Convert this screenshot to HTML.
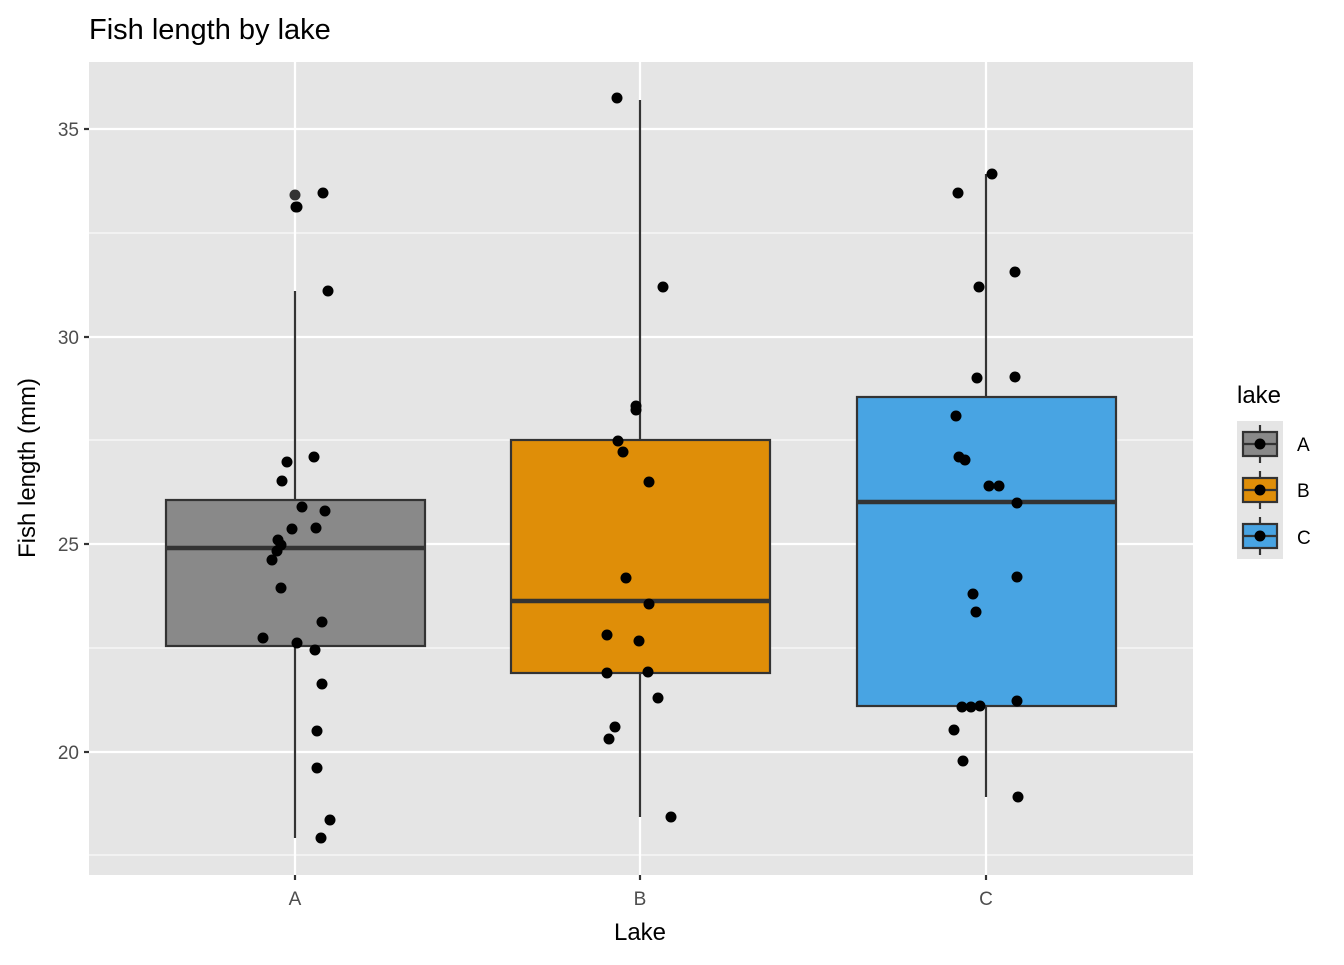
<!DOCTYPE html><html><head><style>body{margin:0;background:#fff}</style></head><body>
<svg width="1344" height="960" xmlns="http://www.w3.org/2000/svg" font-family="Liberation Sans, Arial, sans-serif">
<rect x="89" y="62" width="1104" height="813" fill="#e5e5e5"/>
<g stroke="#fff" stroke-width="1.1"><line x1="89" x2="1193" y1="233" y2="233"/><line x1="89" x2="1193" y1="440" y2="440"/><line x1="89" x2="1193" y1="648" y2="648"/><line x1="89" x2="1193" y1="855" y2="855"/></g>
<g stroke="#fff" stroke-width="2.2"><line x1="89" x2="1193" y1="129" y2="129"/><line x1="89" x2="1193" y1="337" y2="337"/><line x1="89" x2="1193" y1="544" y2="544"/><line x1="89" x2="1193" y1="752" y2="752"/>
<line x1="295" x2="295" y1="62" y2="875"/><line x1="640" x2="640" y1="62" y2="875"/><line x1="986" x2="986" y1="62" y2="875"/></g>
<g stroke="#333" stroke-width="2.2">
<line x1="295" x2="295" y1="291" y2="838"/><rect x="166" y="500" width="259" height="146" fill="#898989"/><line x1="166" x2="425" y1="548" y2="548" stroke-width="4.5"/>
<line x1="640" x2="640" y1="100" y2="817"/><rect x="511" y="440" width="259" height="233" fill="#df8e08"/><line x1="511" x2="770" y1="601" y2="601" stroke-width="4.5"/>
<line x1="986" x2="986" y1="174" y2="797"/><rect x="857" y="397" width="259" height="309" fill="#48a4e3"/><line x1="857" x2="1116" y1="502" y2="502" stroke-width="4.5"/>
</g>
<g fill="#000">
<circle cx="295" cy="195" r="5.5" fill="#333"/><circle cx="296" cy="207" r="5.5"/><circle cx="297" cy="207" r="5.5"/><circle cx="323" cy="193" r="5.5"/><circle cx="328" cy="291" r="5.5"/><circle cx="287" cy="462" r="5.5"/><circle cx="314" cy="457" r="5.5"/><circle cx="282" cy="481" r="5.5"/><circle cx="302" cy="507" r="5.5"/><circle cx="325" cy="511" r="5.5"/><circle cx="292" cy="529" r="5.5"/><circle cx="316" cy="528" r="5.5"/><circle cx="278" cy="540" r="5.5"/><circle cx="281" cy="545" r="5.5"/><circle cx="277" cy="551" r="5.5"/><circle cx="272" cy="560" r="5.5"/><circle cx="281" cy="588" r="5.5"/><circle cx="263" cy="638" r="5.5"/><circle cx="322" cy="622" r="5.5"/><circle cx="297" cy="643" r="5.5"/><circle cx="315" cy="650" r="5.5"/><circle cx="322" cy="684" r="5.5"/><circle cx="317" cy="731" r="5.5"/><circle cx="317" cy="768" r="5.5"/><circle cx="330" cy="820" r="5.5"/><circle cx="321" cy="838" r="5.5"/>
<circle cx="617" cy="98" r="5.5"/><circle cx="663" cy="287" r="5.5"/><circle cx="636" cy="406" r="5.5"/><circle cx="636" cy="410" r="5.5"/><circle cx="618" cy="441" r="5.5"/><circle cx="623" cy="452" r="5.5"/><circle cx="649" cy="482" r="5.5"/><circle cx="626" cy="578" r="5.5"/><circle cx="649" cy="604" r="5.5"/><circle cx="607" cy="635" r="5.5"/><circle cx="639" cy="641" r="5.5"/><circle cx="607" cy="673" r="5.5"/><circle cx="648" cy="672" r="5.5"/><circle cx="658" cy="698" r="5.5"/><circle cx="615" cy="727" r="5.5"/><circle cx="609" cy="739" r="5.5"/><circle cx="671" cy="817" r="5.5"/>
<circle cx="958" cy="193" r="5.5"/><circle cx="992" cy="174" r="5.5"/><circle cx="1015" cy="272" r="5.5"/><circle cx="979" cy="287" r="5.5"/><circle cx="977" cy="378" r="5.5"/><circle cx="1015" cy="377" r="5.5"/><circle cx="956" cy="416" r="5.5"/><circle cx="959" cy="457" r="5.5"/><circle cx="965" cy="460" r="5.5"/><circle cx="989" cy="486" r="5.5"/><circle cx="999" cy="486" r="5.5"/><circle cx="1017" cy="503" r="5.5"/><circle cx="1017" cy="577" r="5.5"/><circle cx="973" cy="594" r="5.5"/><circle cx="976" cy="612" r="5.5"/><circle cx="962" cy="707" r="5.5"/><circle cx="971" cy="707" r="5.5"/><circle cx="980" cy="706" r="5.5"/><circle cx="1017" cy="701" r="5.5"/><circle cx="954" cy="730" r="5.5"/><circle cx="963" cy="761" r="5.5"/><circle cx="1018" cy="797" r="5.5"/>
</g>
<g stroke="#333" stroke-width="2.2"><line x1="84" x2="89" y1="129" y2="129"/><line x1="84" x2="89" y1="337" y2="337"/><line x1="84" x2="89" y1="544" y2="544"/><line x1="84" x2="89" y1="752" y2="752"/><line x1="295" x2="295" y1="875" y2="880"/><line x1="640" x2="640" y1="875" y2="880"/><line x1="986" x2="986" y1="875" y2="880"/></g>
<g fill="#4d4d4d" font-size="19" text-anchor="end"><text x="79" y="136">35</text><text x="79" y="344">30</text><text x="79" y="551">25</text><text x="79" y="759">20</text></g>
<g fill="#4d4d4d" font-size="19" text-anchor="middle"><text x="295" y="905">A</text><text x="640" y="905">B</text><text x="986" y="905">C</text></g>
<text x="640" y="940" font-size="24" text-anchor="middle">Lake</text>
<text transform="translate(35,468) rotate(-90)" font-size="24" text-anchor="middle">Fish length (mm)</text>
<text x="89" y="39" font-size="29">Fish length by lake</text>
<text x="1237" y="403" font-size="24">lake</text>
<rect x="1237" y="421" width="46" height="138" fill="#e5e5e5"/>
<g stroke="#333" stroke-width="2.2">
<line x1="1260" x2="1260" y1="425" y2="463"/><rect x="1243" y="432" width="34" height="24" fill="#898989"/><line x1="1243" x2="1277" y1="444" y2="444"/>
<line x1="1260" x2="1260" y1="471" y2="509"/><rect x="1243" y="478" width="34" height="24" fill="#df8e08"/><line x1="1243" x2="1277" y1="490" y2="490"/>
<line x1="1260" x2="1260" y1="517" y2="555"/><rect x="1243" y="524" width="34" height="24" fill="#48a4e3"/><line x1="1243" x2="1277" y1="536" y2="536"/>
</g>
<circle cx="1260" cy="444" r="5.5"/><circle cx="1260" cy="490" r="5.5"/><circle cx="1260" cy="536" r="5.5"/>
<g font-size="19"><text x="1297" y="451">A</text><text x="1297" y="497">B</text><text x="1297" y="544">C</text></g>
</svg></body></html>
